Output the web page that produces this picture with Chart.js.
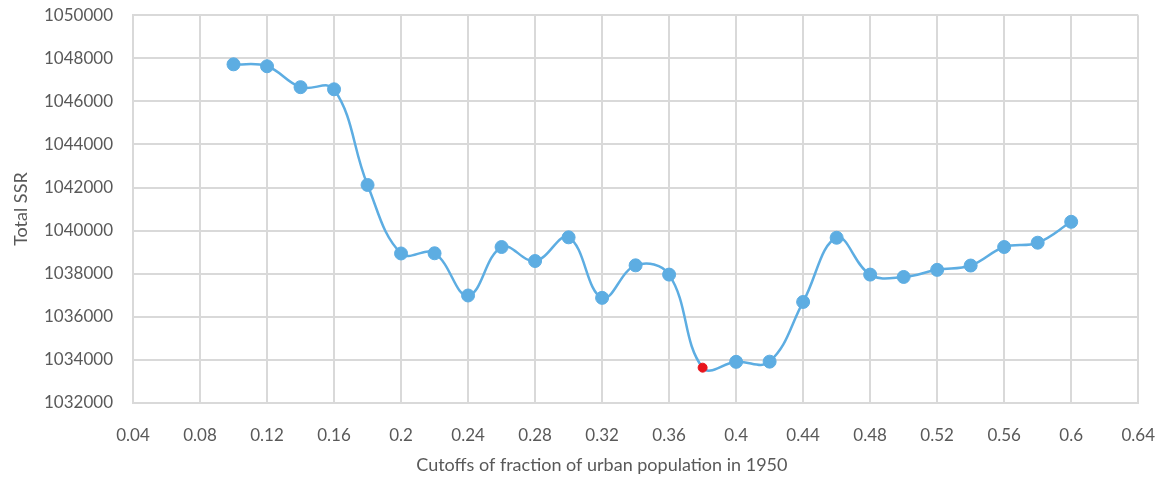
<!DOCTYPE html>
<html>
<head>
<meta charset="utf-8">
<script src="https://cdn.jsdelivr.net/npm/chart.js@4"></script>
<style>
  html, body { margin: 0; padding: 0; background: #fff; }
  #outer { width: 1164px; height: 482px; overflow: hidden; position: relative; }
  #wrap { position: absolute; left: 0; top: -15px; width: 1177px; height: 497px; }
</style>
</head>
<body>
<div id="outer"><div id="wrap"><canvas id="myChart"></canvas></div></div>
<script>
const cutoffs = [0.10, 0.12, 0.14, 0.16, 0.18, 0.20, 0.22, 0.24, 0.26, 0.28, 0.30, 0.32, 0.34, 0.36, 0.38, 0.40, 0.42, 0.44, 0.46, 0.48, 0.50, 0.52, 0.54, 0.56, 0.58, 0.60];
const totalSSR = [1047720, 1047630, 1046660, 1046560, 1042120, 1038940, 1038950, 1036990, 1039240, 1038590, 1039690, 1036880, 1038390, 1037960, 1033640, 1033910, 1033920, 1036690, 1039670, 1037960, 1037850, 1038180, 1038380, 1039240, 1039440, 1040410];
const minCutoff = 0.38; // highlighted point
const xTicks = [0.04, 0.64, 0.04]; // min, max, step
const yTicks = [1032000, 1050000, 2000];

const blue = '#5DADE2';
const ctx = document.getElementById('myChart');

const points = cutoffs.map((c, i) => ({ x: c, y: totalSSR[i] }));
const fills = cutoffs.map(c => Math.abs(c - minCutoff) < 1e-9 ? '#e8141c' : blue);
const radii = cutoffs.map(c => Math.abs(c - minCutoff) < 1e-9 ? 4.5 : 6.5);

const fam = 'Lato, "Open Sans", sans-serif';

new Chart(ctx, {
  type: 'line',
  data: {
    datasets: [{
      label: 'Total SSR',
      data: points,
      borderColor: blue,
      borderWidth: 2.5,
      backgroundColor: blue,
      pointBackgroundColor: fills,
      pointBorderColor: fills,
      pointRadius: radii,
      pointBorderWidth: 1,
      tension: 0.4,
      fill: false
    }]
  },
  options: {
    responsive: true,
    maintainAspectRatio: false,
    animation: false,
    layout: { padding: { top: 0, right: 9, bottom: 4, left: 10 } },
    plugins: { legend: { display: false }, tooltip: { enabled: false } },
    scales: {
      x: {
        type: 'linear',
        min: xTicks[0],
        max: xTicks[1],
        afterFit: s => { s.height = 497 - 418 - 4; },
        ticks: {
          stepSize: xTicks[2],
          color: '#595959',
          font: { family: fam, size: 17 },
          padding: 22,
          callback: v => String(+v.toFixed(2))
        },
        grid: { color: '#d9d9d9', lineWidth: 2, drawTicks: false },
        border: { color: '#d9d9d9', width: 2 },
        title: {
          display: true,
          // trailing em spaces nudge the centred title left, as in the original
          text: 'Cutoffs of fraction of urban population in 1950\u2003\u2003\u2003\u2003\u2003',
          color: '#595959',
          font: { family: fam, size: 18 },
          padding: { top: 4, bottom: 2 }
        }
      },
      y: {
        min: yTicks[0],
        max: yTicks[1],
        afterFit: s => { s.width = 133 - 10; },
        ticks: {
          stepSize: yTicks[2],
          color: '#595959',
          font: { family: fam, size: 17 },
          padding: 20,
          callback: v => String(v)
        },
        grid: { color: '#d9d9d9', lineWidth: 2, drawTicks: false },
        border: { color: '#d9d9d9', width: 2 },
        title: {
          display: true,
          text: 'Total SSR',
          color: '#595959',
          font: { family: fam, size: 18 },
          padding: 0
        }
      }
    }
  }
});
</script>
</body>
</html>
